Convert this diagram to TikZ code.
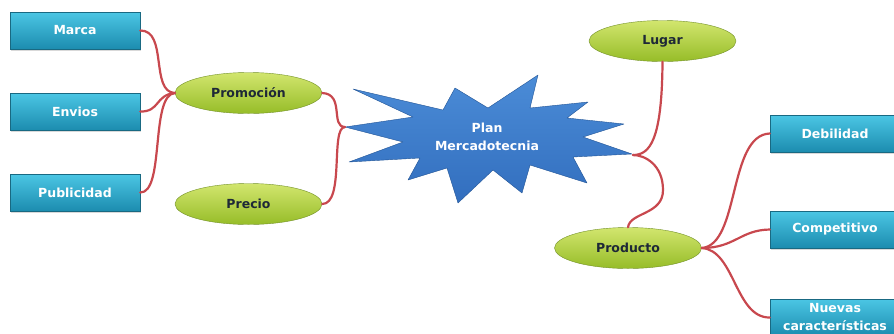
\documentclass[tikz,border=0pt]{standalone}
\usepackage{fontspec}
\setmainfont{DejaVu Sans}
\usepackage{xcolor}
\usepackage{tikz}
\usetikzlibrary{shapes.geometric, shadows}
\definecolor{boxtop}{RGB}{75, 198, 228}
\definecolor{boxbot}{RGB}{28, 140, 175}
\definecolor{boxedge}{RGB}{25, 105, 130}
\definecolor{leaftop}{RGB}{210, 230, 110}
\definecolor{leafbot}{RGB}{150, 188, 40}
\definecolor{leafedge}{RGB}{115, 145, 40}
\definecolor{startop}{RGB}{75, 140, 215}
\definecolor{starbot}{RGB}{50, 110, 190}
\definecolor{staredge}{RGB}{35, 85, 150}
\definecolor{linkred}{RGB}{200, 72, 78}
\definecolor{darktext}{RGB}{30, 40, 55}

\begin{document}
\begin{tikzpicture}[
    x=1pt, y=-1pt,
    topic/.style={rectangle, top color=boxtop, bottom color=boxbot, draw=boxedge,
                  minimum width=130pt, minimum height=37pt, inner sep=0pt,
                  align=center, text=white, font=\fontsize{12.5}{18}\selectfont\bfseries,
                  drop shadow={opacity=0.3, shadow xshift=1pt, shadow yshift=-1.5pt}},
    idea/.style={ellipse, top color=leaftop, bottom color=leafbot, draw=leafedge,
                 minimum width=147pt, minimum height=41pt, inner sep=0pt,
                 text=darktext, font=\fontsize{12.5}{18}\selectfont\bfseries},
    burst/.style={top color=startop, bottom color=starbot, draw=staredge, line join=round},
    link/.style={draw=linkred, line width=2.2pt, line cap=round}
]
\useasboundingbox (0,0) rectangle (894,333);

% central burst
\path[burst] (353,89) -- (443,110) -- (455,88) -- (488,108) -- (538,75) -- (530,108)
    -- (588,102) -- (567,118) -- (624,124) -- (583,137) -- (632,154) -- (573,157)
    -- (587,183) -- (530,165) -- (522,193) -- (493,170) -- (458,203) -- (447,168)
    -- (408,180) -- (420,158) -- (349,162) -- (403,142) -- (345,127) -- (413,117) -- cycle;
\node[text=white, align=center, font=\fontsize{12.5}{18}\selectfont\bfseries] (plan) at (487,137) {Plan\\Mercadotecnia};
\coordinate (plan-w) at (345,127);
\coordinate (plan-e) at (633,155);

\node[topic] (marca)   at (75,30.5)  {Marca};
\node[topic] (envios)  at (75,111.5) {Envios};
\node[topic] (publi)   at (75,192.5) {Publicidad};

\node[idea] (promo)    at (248.5,93)  {Promoción};
\node[idea] (precio)   at (248.5,204) {Precio};
\node[idea] (lugar)    at (662.5,41)  {Lugar};
\node[idea] (producto) at (628,248)   {Producto};

\node[topic] (debil)   at (835,133.5) {Debilidad};
\node[topic] (compet)  at (835,229.5) {Competitivo};
\node[topic] (nuevas)  at (835,317.5) {Nuevas\\características};

\draw[link] (marca.east) .. controls (168,30) and (150,92) .. (promo.west);
\draw[link] (envios.east) .. controls (160,112) and (155,95) .. (promo.west);
\draw[link] (publi.east) .. controls (165,193) and (150,95) .. (promo.west);

\draw[link] (promo.east) .. controls (345,94) and (330,127) .. (plan-w);
\draw[link] (precio.east) .. controls (345,204) and (330,127) .. (plan-w);

\draw[link] (lugar.south) .. controls (662,140) and (650,155) .. (plan-e);
\draw[link] (producto.north) .. controls (630,212) and (663,215) .. (663,190)
    .. controls (663,165) and (645,155) .. (plan-e);

\draw[link] (producto.east) .. controls (740,245) and (728,135) .. (debil.west);
\draw[link] (producto.east) .. controls (735,248) and (740,230) .. (compet.west);
\draw[link] (producto.east) .. controls (735,250) and (735,318) .. (nuevas.west);

\end{tikzpicture}
\end{document}
